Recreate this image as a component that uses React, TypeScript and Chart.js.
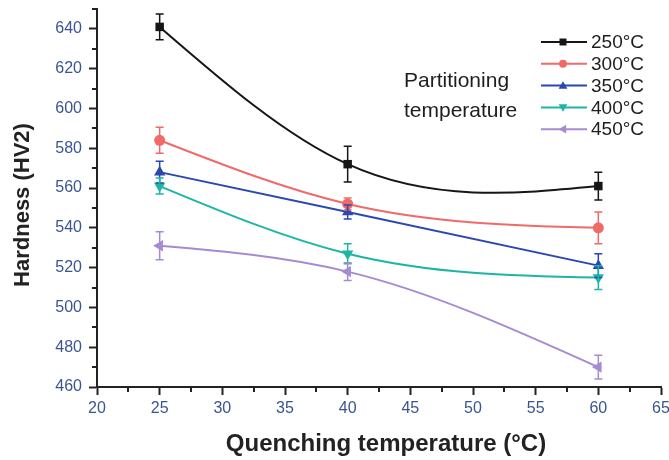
import React, { useEffect, useRef } from 'react';
import { Chart, registerables } from 'chart.js';

Chart.register(...registerables);

// ---- data ----
const quenchTemps = [25, 40, 60];
const seriesLabels = ['250°C', '300°C', '350°C', '400°C', '450°C'];
const hv250 = [641, 572, 561];
const hv300 = [584, 552, 540];
const hv350 = [568, 548, 521];
const hv400 = [561, 527, 515];
const hv450 = [531, 518, 470];
const err250 = [6.5, 9, 7];
const err300 = [6.5, 3, 8];
const err350 = [5.5, 3.5, 6];
const err400 = [4, 5, 6];
const err450 = [7, 4.5, 6];
const xTickLabels = [20, 25, 30, 35, 40, 45, 50, 55, 60, 65];
const yTickLabels = [460, 480, 500, 520, 540, 560, 580, 600, 620, 640];
const xMinorTicks = [22.5, 27.5, 32.5, 37.5, 42.5, 47.5, 52.5, 57.5, 62.5];
const yMinorTicks = [470, 490, 510, 530, 550, 570, 590, 610, 630, 650];

const colors = ['#161616', '#f06a6a', '#2b47b2', '#1db6a4', '#a68bd2'];
const markers = ['rect', 'circle', 'up', 'down', 'left'];
const values = [hv250, hv300, hv350, hv400, hv450];
const errors = [err250, err300, err350, err400, err450];

const FONT = '"Liberation Sans", Arial, Helvetica, sans-serif';

function drawMarker(ctx: CanvasRenderingContext2D, style: string, x: number, y: number, r: number, color: string) {
  ctx.save();
  ctx.fillStyle = color;
  ctx.beginPath();
  if (style === 'rect') {
    ctx.rect(x - r, y - r, 2 * r, 2 * r);
  } else if (style === 'circle') {
    ctx.arc(x, y, r, 0, Math.PI * 2);
  } else if (style === 'up') {
    ctx.moveTo(x, y - r * 1.1);
    ctx.lineTo(x + r * 1.1, y + r * 0.8);
    ctx.lineTo(x - r * 1.1, y + r * 0.8);
  } else if (style === 'down') {
    ctx.moveTo(x, y + r * 1.1);
    ctx.lineTo(x + r * 1.1, y - r * 0.8);
    ctx.lineTo(x - r * 1.1, y - r * 0.8);
  } else if (style === 'left') {
    ctx.moveTo(x - r * 1.1, y);
    ctx.lineTo(x + r * 0.8, y - r * 1.1);
    ctx.lineTo(x + r * 0.8, y + r * 1.1);
  }
  ctx.closePath();
  ctx.fill();
  ctx.restore();
}

// Natural cubic spline (like Origin's "Spline" connection) expressed as
// Chart.js bezier control points on the line element's own points.
const naturalSplinePlugin = {
  id: 'naturalSpline',
  beforeDatasetsDraw(chart: any) {
    chart.data.datasets.forEach((_d: any, di: number) => {
      const meta = chart.getDatasetMeta(di);
      const line = meta.dataset;
      if (!line) return;
      if (line.updateControlPoints) line.updateControlPoints(chart.chartArea, 'x');
      const pts = meta.data;
      const n = pts.length;
      if (n < 3) return;
      const xs = pts.map((p: any) => p.x);
      const ys = pts.map((p: any) => p.y);
      const h: number[] = [];
      for (let i = 0; i < n - 1; i++) h.push(xs[i + 1] - xs[i]);
      const M = new Array(n).fill(0);
      const a: number[] = [], b: number[] = [], c: number[] = [], r: number[] = [];
      for (let i = 1; i < n - 1; i++) {
        a.push(h[i - 1]);
        b.push(2 * (h[i - 1] + h[i]));
        c.push(h[i]);
        r.push(6 * ((ys[i + 1] - ys[i]) / h[i] - (ys[i] - ys[i - 1]) / h[i - 1]));
      }
      const m = b.length;
      for (let i = 1; i < m; i++) {
        const w = a[i] / b[i - 1];
        b[i] -= w * c[i - 1];
        r[i] -= w * r[i - 1];
      }
      const sol = new Array(m).fill(0);
      for (let i = m - 1; i >= 0; i--) {
        sol[i] = (r[i] - (i < m - 1 ? c[i] * sol[i + 1] : 0)) / b[i];
      }
      for (let i = 0; i < m; i++) M[i + 1] = sol[i];
      for (let i = 0; i < n - 1; i++) {
        const hi = h[i];
        const slope = (ys[i + 1] - ys[i]) / hi;
        const d0 = slope - (hi * (2 * M[i] + M[i + 1])) / 6;
        const d1 = slope + (hi * (M[i] + 2 * M[i + 1])) / 6;
        const p0 = pts[i];
        const p1 = pts[i + 1];
        p0.cp2x = xs[i] + hi / 3;
        p0.cp2y = ys[i] + (d0 * hi) / 3;
        p1.cp1x = xs[i + 1] - hi / 3;
        p1.cp1y = ys[i + 1] - (d1 * hi) / 3;
      }
      pts[0].cp1x = xs[0];
      pts[0].cp1y = ys[0];
      pts[n - 1].cp2x = xs[n - 1];
      pts[n - 1].cp2y = ys[n - 1];
    });
  },
};

const errorBarPlugin = {
  id: 'errorBars',
  afterDatasetsDraw(chart: any) {
    const ctx = chart.ctx;
    const xs = chart.scales.x;
    const ys = chart.scales.y;
    ctx.save();
    values.forEach((vals, si) => {
      ctx.strokeStyle = colors[si];
      ctx.lineWidth = 1.5;
      vals.forEach((v, i) => {
        const e = errors[si][i];
        const px = xs.getPixelForValue(quenchTemps[i]);
        const top = ys.getPixelForValue(v + e);
        const bot = ys.getPixelForValue(v - e);
        ctx.beginPath();
        ctx.moveTo(px, top);
        ctx.lineTo(px, bot);
        ctx.moveTo(px - 4, top);
        ctx.lineTo(px + 4, top);
        ctx.moveTo(px - 4, bot);
        ctx.lineTo(px + 4, bot);
        ctx.stroke();
      });
    });
    ctx.restore();
  },
};

const decorPlugin = {
  id: 'decor',
  afterDraw(chart: any) {
    const ctx = chart.ctx;
    const xs = chart.scales.x;
    const ys = chart.scales.y;
    const area = chart.chartArea;
    ctx.save();
    // minor ticks
    ctx.strokeStyle = '#222';
    ctx.lineWidth = 2;
    ctx.beginPath();
    yMinorTicks.forEach((v) => {
      const py = Math.round(ys.getPixelForValue(v));
      ctx.moveTo(area.left, py);
      ctx.lineTo(area.left - 5, py);
    });
    xMinorTicks.forEach((v) => {
      const px = Math.round(xs.getPixelForValue(v));
      ctx.moveTo(px, area.bottom);
      ctx.lineTo(px, area.bottom + 5);
    });
    ctx.stroke();

    // axis titles
    ctx.fillStyle = '#222';
    ctx.textAlign = 'center';
    ctx.textBaseline = 'middle';
    ctx.font = `bold 24px ${FONT}`;
    ctx.fillText('Quenching temperature (°C)', 386, 444);
    ctx.save();
    ctx.translate(23, 205);
    ctx.rotate(-Math.PI / 2);
    ctx.font = `bold 22px ${FONT}`;
    ctx.fillText('Hardness (HV2)', 0, 0);
    ctx.restore();

    // annotation
    ctx.textAlign = 'left';
    ctx.textBaseline = 'alphabetic';
    ctx.font = `21px ${FONT}`;
    ctx.fillStyle = '#1e1e1e';
    ctx.fillText('Partitioning', 404, 87);
    ctx.fillText('temperature', 404, 117);

    // legend
    ctx.font = `19px ${FONT}`;
    ctx.textBaseline = 'middle';
    seriesLabels.forEach((lab, i) => {
      const y = 42 + i * 21.8;
      ctx.strokeStyle = colors[i];
      ctx.lineWidth = 2;
      ctx.beginPath();
      ctx.moveTo(541, y);
      ctx.lineTo(587, y);
      ctx.stroke();
      drawMarker(ctx, markers[i], 563, y, markers[i] === 'rect' ? 3.5 : 4, colors[i]);
      ctx.fillStyle = '#1e1e1e';
      ctx.fillText(lab, 591, y + 1);
    });
    ctx.restore();
  },
};

export default function App() {
  const canvasRef = useRef<HTMLCanvasElement | null>(null);

  useEffect(() => {
    if (!canvasRef.current) return;
    const pointStyles: any[] = ['rect', 'circle', 'triangle', 'triangle', 'triangle'];
    const rotations = [0, 0, 0, 180, 270];
    const radii = [6, 5.5, 6.5, 6.5, 6.5];
    const chart = new Chart(canvasRef.current, {
      type: 'line',
      data: {
        datasets: values.map((vals, si) => ({
          label: seriesLabels[si],
          data: vals.map((v, i) => ({ x: quenchTemps[i], y: v })),
          borderColor: colors[si],
          backgroundColor: colors[si],
          borderWidth: 2,
          pointStyle: pointStyles[si],
          rotation: rotations[si],
          pointRadius: radii[si],
          pointBorderWidth: 0,
          tension: 0.4,
          capBezierPoints: false,
        })),
      },
      options: {
        responsive: false,
        animation: false,
        layout: { padding: { top: 9, right: 8, left: 0, bottom: 0 } },
        plugins: {
          legend: { display: false },
          tooltip: { enabled: false },
        },
        scales: {
          x: {
            type: 'linear',
            min: 20,
            max: 65,
            afterBuildTicks: (scale: any) => {
              scale.ticks = xTickLabels.map((v) => ({ value: v }));
            },
            afterFit: (scale: any) => {
              scale.height = 73;
              scale.paddingLeft = 0;
              scale.paddingRight = 0;
            },
            ticks: {
              color: '#3a5590',
              font: { family: FONT, size: 16 },
              padding: 4,
              maxRotation: 0,
              autoSkip: false,
            },
            grid: {
              display: true,
              drawOnChartArea: false,
              tickLength: 8,
              tickColor: '#222',
              tickWidth: 2,
            },
            border: { display: true, color: '#222', width: 2 },
          },
          y: {
            type: 'linear',
            min: 460,
            max: 650,
            afterBuildTicks: (scale: any) => {
              scale.ticks = yTickLabels.map((v) => ({ value: v }));
            },
            afterFit: (scale: any) => {
              scale.width = 97;
              scale.paddingTop = 0;
              scale.paddingBottom = 0;
            },
            ticks: {
              color: '#3a5590',
              font: { family: FONT, size: 16 },
              padding: 7,
              autoSkip: false,
            },
            grid: {
              display: true,
              drawOnChartArea: false,
              tickLength: 8,
              tickColor: '#222',
              tickWidth: 2,
            },
            border: { display: true, color: '#222', width: 2 },
          },
        },
      },
      plugins: [naturalSplinePlugin, errorBarPlugin, decorPlugin],
    });
    return () => chart.destroy();
  }, []);

  return (
    <div style={{ position: 'absolute', left: 0, top: 0, width: 669, height: 460, background: '#fff' }}>
      <canvas ref={canvasRef} width={669} height={460} style={{ display: 'block' }} />
    </div>
  );
}
